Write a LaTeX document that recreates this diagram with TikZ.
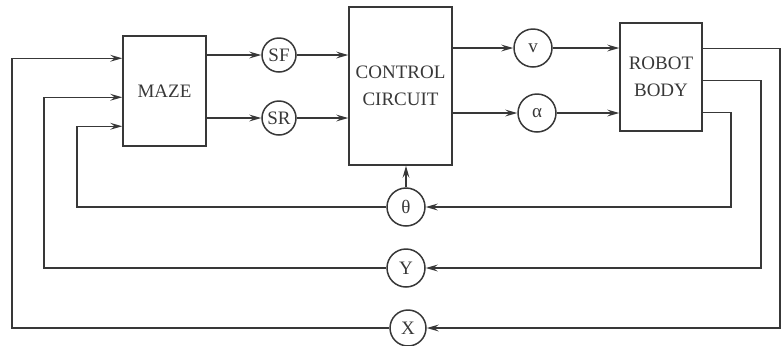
\documentclass[tikz,border=0pt]{standalone}
\usepackage{fontspec}
\setmainfont{Liberation Serif}
\usetikzlibrary{arrows.meta}
\definecolor{ink}{HTML}{383838}
\begin{document}
\begin{tikzpicture}[x=0.5pt,y=-0.5pt,
  every node/.style={font=\fontsize{9.5}{13.75}\selectfont, text=ink},
  blk/.style={draw=ink, line width=0.75pt, inner sep=0pt, align=center},
  sig/.style={draw=ink, line width=0.75pt, circle, inner sep=0pt, minimum size=19pt},
  ssig/.style={sig, minimum size=17pt},
  arr/.style={draw=ink, line width=0.75pt, -{Stealth[length=6pt,width=3.4pt,inset=2.2pt]}},
  ln/.style={draw=ink, line width=0.75pt}]
\useasboundingbox (0,0) rectangle (782,345);
% blocks
\node[blk, minimum width=41.5pt, minimum height=55pt] (maze) at (164.5,91) {MAZE};
\node[blk, minimum width=51.5pt, minimum height=79pt] (cc) at (400.5,86) {CONTROL\\CIRCUIT};
\node[blk, minimum width=41pt, minimum height=54pt] (rb) at (661,77) {ROBOT\\BODY};
% signals
\node[ssig] (sf) at (279,55) {SF};
\node[ssig] (sr) at (279,118) {SR};
\node[sig] (v) at (533,48) {v};
\node[sig] (al) at (537,113) {α};
\node[sig] (th) at (406,207) {θ};
\node[sig] (yc) at (406,268) {Y};
\node[sig, minimum size=18pt] (xc) at (408,328) {X};
% helper coordinates
\path (rb.north east) ++(0,26) coordinate (o1);
\path (rb.north east) ++(0,58) coordinate (o2);
\path (rb.north east) ++(0,90) coordinate (o3);
\path (maze.north west) ++(0,23) coordinate (i1);
\path (maze.north west) ++(0,62) coordinate (i2);
\path (maze.north west) ++(0,91) coordinate (i3);
\coordinate (xr) at (780,0);
\coordinate (yr) at (761,0);
\coordinate (tr) at (731,0);
\coordinate (xl) at (12,0);
\coordinate (yl) at (44,0);
\coordinate (tl) at (77,0);
% forward path
\draw[arr] (maze.east |- sf) -- (sf);
\draw[arr] (sf) -- (sf -| cc.west);
\draw[arr] (maze.east |- sr) -- (sr);
\draw[arr] (sr) -- (sr -| cc.west);
\draw[arr] (cc.east |- v) -- (v);
\draw[arr] (v) -- (v -| rb.west);
\draw[arr] (cc.east |- al) -- (al);
\draw[arr] (al) -- (al -| rb.west);
% feedback
\draw[arr] (o1) -| (xr |- xc) -- (xc);
\draw[arr] (o2) -| (yr |- yc) -- (yc);
\draw[arr] (o3) -| (tr |- th) -- (th);
\draw[arr] (th) -- (th |- cc.south);
\draw[arr] (th.west) -| (tl |- i3) -- (i3);
\draw[arr] (yc.west) -| (yl |- i2) -- (i2);
\draw[arr] (xc.west) -| (xl |- i1) -- (i1);
\end{tikzpicture}
\end{document}
